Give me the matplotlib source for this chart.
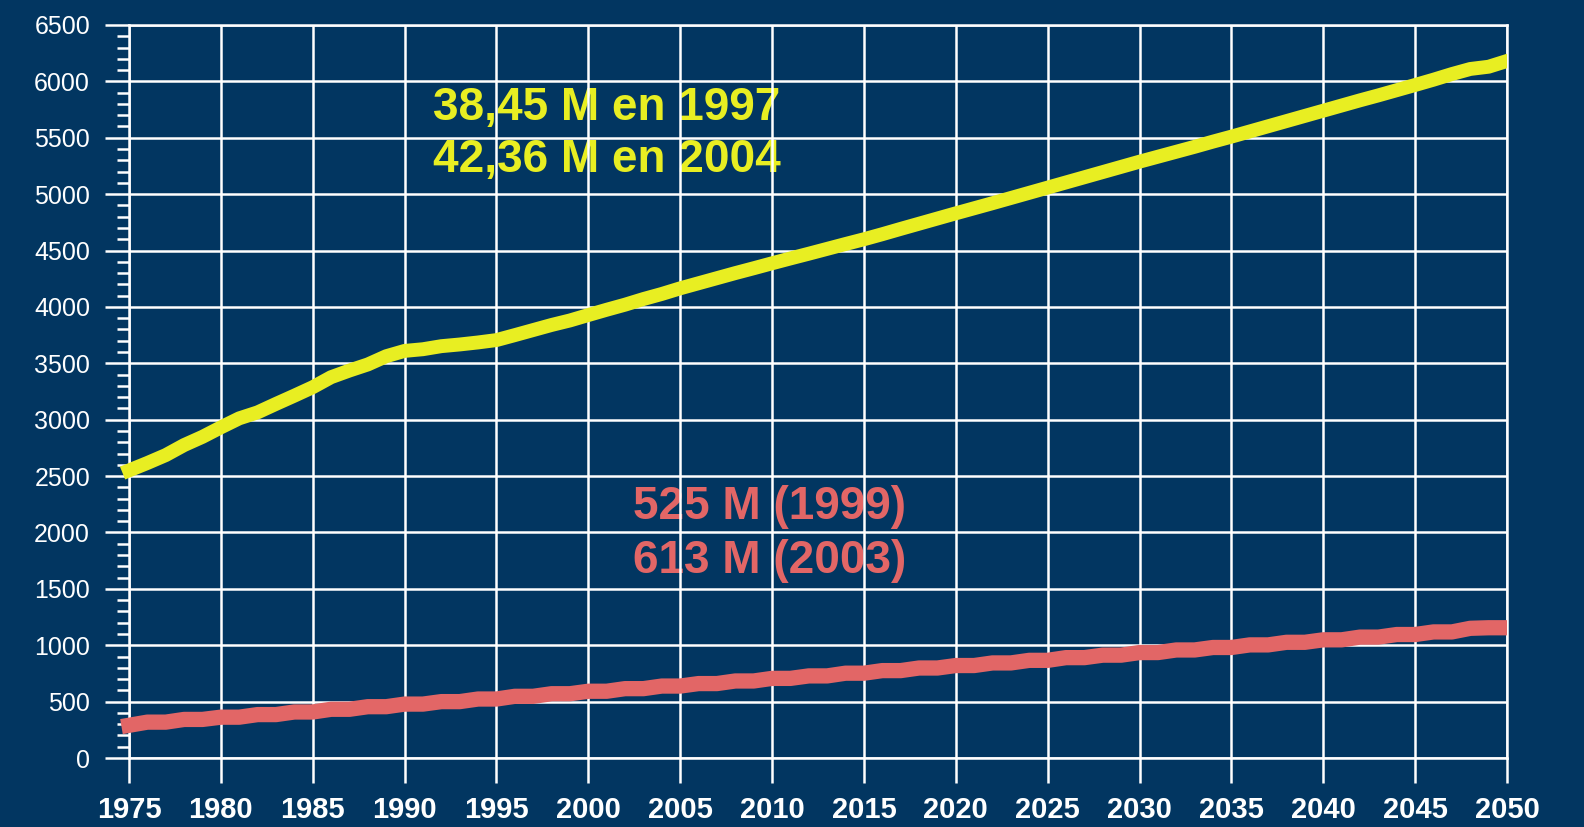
import matplotlib
matplotlib.use("Agg")
import matplotlib.pyplot as plt
from matplotlib.ticker import MultipleLocator
from matplotlib.transforms import Bbox, TransformedBbox

# valeurs (une par an, 1975 -> 2050)
years = list(range(1975, 2051))

yellow_vals = [
    2550, 2616, 2686, 2775, 2848, 2932, 3012, 3065, 3140, 3213,
    3288, 3377, 3436, 3490, 3563, 3610, 3625, 3652, 3667, 3685,
    3706, 3750, 3795, 3840, 3880, 3928, 3975, 4020, 4070, 4115,
    4165, 4210, 4255, 4300, 4343, 4387, 4430, 4472, 4515, 4558,
    4600, 4645, 4692, 4738, 4784, 4830, 4875, 4920, 4966, 5012,
    5058, 5104, 5150, 5196, 5242, 5288, 5332, 5376, 5420, 5466,
    5510, 5556, 5602, 5648, 5694, 5740, 5786, 5832, 5876, 5922,
    5968, 6015, 6065, 6110, 6130, 6181,
]

red_vals = [
    290, 318, 318, 342, 342, 362, 362, 385, 385, 408,
    408, 432, 432, 455, 455, 478, 478, 500, 500, 523,
    523, 547, 547, 570, 570, 592, 592, 615, 615, 638,
    638, 660, 660, 683, 683, 706, 706, 728, 728, 752,
    752, 775, 775, 798, 798, 820, 820, 843, 843, 866,
    866, 890, 890, 912, 912, 935, 935, 958, 958, 980,
    980, 1003, 1003, 1026, 1026, 1048, 1048, 1072, 1072, 1095,
    1095, 1118, 1118, 1150, 1155, 1155,
]

yellow_text = ["38,45 M en 1997", "42,36 M en 2004"]
red_text = ["525 M (1999)", "613 M (2003)"]

BG = "#023661"
YELLOW = "#E8EE22"
RED = "#E26666"

plt.rcParams["font.family"] = ["Liberation Sans", "DejaVu Sans"]

fig = plt.figure(figsize=(15.84, 8.27), dpi=100, facecolor=BG)
ax = fig.add_axes([129 / 1584, 1 - 758 / 827, (1507 - 129) / 1584, (758 - 25) / 827])
ax.set_facecolor(BG)

ax.set_xlim(1975, 2050)
ax.set_ylim(0, 6500)
ax.xaxis.set_major_locator(MultipleLocator(5))
ax.yaxis.set_major_locator(MultipleLocator(500))
ax.yaxis.set_minor_locator(MultipleLocator(100))

ax.grid(True, which="major", color="white", linewidth=1.8)
for s in ax.spines.values():
    s.set_color("white")
    s.set_linewidth(1.8)

ax.tick_params(axis="x", which="major", length=18, width=1.8, color="white",
               labelcolor="white", labelsize=21, pad=9)
ax.tick_params(axis="y", which="major", length=17, width=1.8, color="white",
               labelcolor="white", labelsize=18, pad=11)
ax.tick_params(axis="y", which="minor", length=8.6, width=1.8, color="white")
for lab in ax.get_xticklabels():
    lab.set_fontweight("bold")

clip = TransformedBbox(Bbox([[110 / 1584, 0], [1507 / 1584, 1]]), fig.transFigure)
for vals, col, lw in [(yellow_vals, YELLOW, 10), (red_vals, RED, 11)]:
    ln, = ax.plot(years, vals, color=col, linewidth=lw, zorder=3,
                  solid_capstyle="projecting", solid_joinstyle="round", clip_on=False)
    ln.set_clip_box(clip)
    ln.set_clip_on(True)

# annotations (sous la grille)
for i, t in enumerate(yellow_text):
    ax.text(433 / 1584, 1 - (120 + 52 * i) / 827, t, transform=fig.transFigure,
            color=YELLOW, fontsize=33, fontweight="bold", va="baseline", zorder=1)
for i, t in enumerate(red_text):
    ax.text(633 / 1584, 1 - (519 + 54 * i) / 827, t, transform=fig.transFigure,
            color=RED, fontsize=33, fontweight="bold", va="baseline", zorder=1)

fig.savefig("out.png", dpi=100, facecolor=BG)
